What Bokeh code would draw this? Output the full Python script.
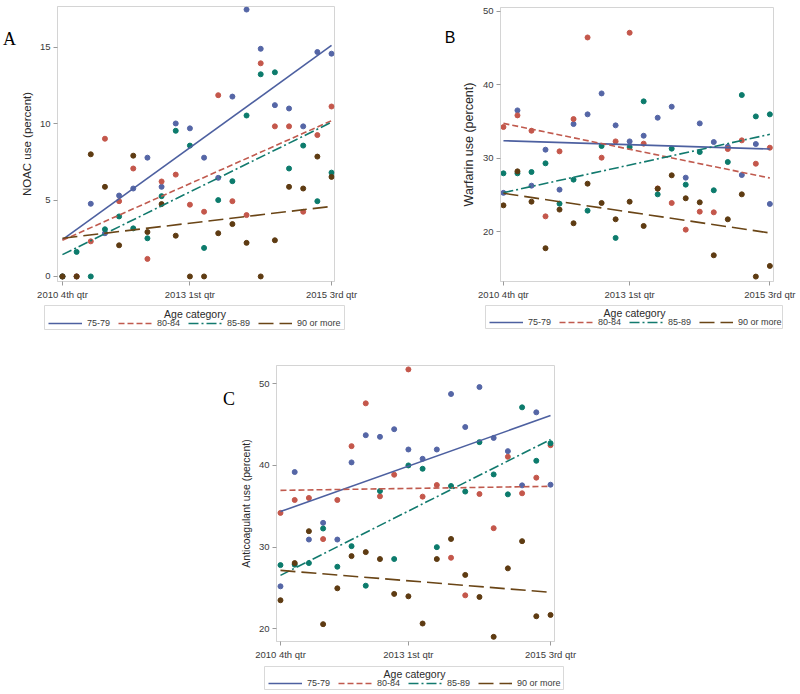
from bokeh.plotting import figure
from bokeh.models import Legend, LegendItem, Label, FixedTicker, Range1d, Spacer
from bokeh.layouts import row, column
from bokeh.embed import file_html
from bokeh.resources import INLINE

# ---------------- data ----------------
quarters = list(range(20))          # 2010 Q4 ... 2015 Q3
tick_idx = [0, 9, 19]
tick_labels = ["2010 4th qtr", "2013 1st qtr", "2015 3rd qtr"]
groups = ["75-79", "80-84", "85-89", "90 or more"]
legend_title = "Age category"

# Panel A: NOAC use (percent)
noac_7579 = [0, 0, 4.76, 2.83, 5.3, 5.76, 7.78, 5.87, 10.02, 9.7, 7.78, 6.46, 11.78, 17.48, 14.91, 11.22, 11.0, 9.83, 14.7, 14.59]
noac_8084 = [0, 0, 2.3, 9.02, 4.93, 7.07, 1.15, 6.22, 6.67, 4.7, 4.24, 11.87, 4.93, 4.02, 13.96, 9.83, 9.83, 4.24, 9.26, 11.13]
noac_8589 = [0, 1.61, 0, 3.09, 3.93, 3.15, 2.5, 5.26, 9.54, 8.57, 1.87, 5.0, 6.24, 10.54, 13.24, 13.37, 7.07, 8.57, 4.93, 6.8]
noac_90 = [0, 0, 8.0, 5.87, 2.04, 7.91, 2.91, 4.74, 2.67, 0, 0, 2.83, 3.43, 2.2, 0, 2.37, 5.87, 5.76, 7.85, 6.52]
noac_fit_start = [2.41, 2.37, 1.43, 2.5]
noac_fit_end = [15.13, 10.2, 10.1, 4.59]

# Panel B: Warfarin use (percent)
warf_7579 = [25.3, 36.53, 26.28, 31.18, 25.74, 34.67, 35.99, 38.84, 34.49, 32.31, 33.08, 35.53, 37.03, 27.37, 34.76, 32.22, 31.59, 27.73, 31.95, 23.79]
warf_8084 = [34.26, 35.85, 33.76, 22.1, 30.95, 35.35, 46.46, 30.09, 32.31, 47.1, 32.0, 25.9, 23.92, 20.29, 22.74, 22.65, 31.27, 32.45, 29.27, 31.45]
warf_8589 = [27.96, 27.96, 28.14, 29.32, 23.83, 27.1, 22.88, 31.68, 19.16, 31.54, 37.76, 25.1, 31.32, 26.42, 30.86, 25.65, 29.5, 38.62, 35.71, 35.99]
warf_90 = [23.6, 28.23, 24.1, 17.76, 23.02, 21.16, 26.55, 23.92, 21.7, 24.1, 20.79, 25.87, 27.69, 24.56, 24.01, 16.8, 21.7, 25.1, 13.9, 15.35]
warf_fit_start = [32.4, 34.76, 25.33, 25.24]
warf_fit_end = [31.27, 27.32, 33.27, 19.84]

# Panel C: Anticoagulant use (percent)
anti_7579 = [25.2, 39.19, 30.93, 32.97, 30.93, 40.37, 43.7, 43.5, 44.43, 41.95, 40.81, 41.95, 48.74, 44.7, 49.59, 43.37, 41.75, 37.56, 46.5, 37.64]
anti_8084 = [34.19, 35.77, 36.02, 30.98, 35.77, 42.36, 47.6, 36.22, 38.86, 51.75, 36.18, 37.6, 28.7, 24.1, 36.5, 32.32, 41.06, 36.59, 38.5, 42.48]
anti_8589 = [27.8, 27.85, 28.05, 32.28, 27.6, 30.12, 25.28, 36.87, 28.54, 40.0, 39.59, 30.0, 37.48, 36.8, 42.85, 38.9, 36.46, 47.11, 40.57, 42.72]
anti_90 = [23.5, 28.05, 31.95, 20.57, 24.96, 28.9, 29.39, 28.54, 24.27, 23.98, 20.65, 28.54, 31.0, 26.6, 23.9, 19.02, 27.4, 30.73, 21.54, 21.7]
anti_fit_start = [34.35, 36.95, 26.54, 27.15]
anti_fit_end = [46.1, 37.44, 43.17, 24.47]

# ---------------- styles ----------------
marker_colors = ["#5566a6", "#c4574b", "#0c7b6c", "#5e3b12"]
line_colors = ["#4d60a0", "#c05a4e", "#127a6e", "#6a4516"]
dashes = ["solid", "6 3", "10 3 2 3", "15 6"]
FONT = "Liberation Sans"
SERIF = "Liberation Serif"
NAN = float("nan")


def blank_fig(width, height, outline=None):
    f = figure(width=width, height=height, output_backend="svg", toolbar_location=None,
               x_range=Range1d(0, width), y_range=Range1d(0, height),
               x_axis_type=None, y_axis_type=None,
               min_border_left=0, min_border_right=0, min_border_top=0, min_border_bottom=0)
    f.outline_line_color = outline
    f.background_fill_color = "white"
    f.border_fill_color = "white"
    f.grid.visible = False
    return f


def letter_box(width, top, letter, font, size, cx):
    f = blank_fig(width, 30)
    f.add_layout(Label(x=cx, y=15, text=letter, text_font=font, text_font_size=size,
                       text_color="black", text_align="center", text_baseline="middle"))
    return column(Spacer(width=width, height=top), f)


def legend_fig(width, height, title_cy, items_left, items_bottom):
    f = blank_fig(width, height, outline="#d9d9d9")
    rs = [f.line([NAN, NAN], [NAN, NAN], line_color=line_colors[i], line_width=1.6,
                 line_dash=dashes[i]) for i in range(4)]
    f.add_layout(Label(x=width / 2, y=height - title_cy, text=legend_title, text_font=FONT,
                       text_font_size="10.5px", text_color="#2a2a2a",
                       text_align="center", text_baseline="middle"))
    lg = Legend(items=[LegendItem(label=g, renderers=[r]) for g, r in zip(groups, rs)],
                orientation="horizontal", location=(items_left, items_bottom),
                label_text_font=FONT, label_text_font_size="9px", label_text_color="#3a3a3a",
                glyph_width=34, glyph_height=10, label_height=10, label_standoff=5,
                spacing=8, padding=0, margin=0,
                border_line_color=None, background_fill_alpha=0)
    f.add_layout(lg, "center")
    return f


def make_panel(series, fit_start, fit_end, ylabel, ylabel_size, yticks, yr, xr,
               width, height, mb_left, mb_right, mb_top, mb_bottom):
    p = figure(width=width, height=height, output_backend="svg",
               toolbar_location=None, x_range=Range1d(*xr), y_range=Range1d(*yr),
               min_border_left=mb_left, min_border_right=mb_right,
               min_border_top=mb_top, min_border_bottom=mb_bottom)
    p.background_fill_color = "white"
    p.border_fill_color = "white"
    p.outline_line_color = "#d4d4d4"
    p.grid.visible = False

    for i in range(4):
        p.scatter(quarters, series[i], size=5, color=marker_colors[i])
    for i in range(4):
        p.line([quarters[0], quarters[-1]], [fit_start[i], fit_end[i]],
               line_color=line_colors[i], line_width=1.6, line_dash=dashes[i])

    p.xaxis.ticker = FixedTicker(ticks=tick_idx)
    p.xaxis.major_label_overrides = {t: l for t, l in zip(tick_idx, tick_labels)}
    p.yaxis.ticker = FixedTicker(ticks=yticks)
    for ax in (p.xaxis, p.yaxis):
        ax.axis_line_color = "#d4d4d4"
        ax.major_tick_line_color = "#9a9a9a"
        ax.major_tick_out = 4
        ax.major_tick_in = 0
        ax.minor_tick_line_color = None
        ax.major_label_text_font = FONT
        ax.major_label_text_font_size = "9.5px"
        ax.major_label_text_color = "#3a3a3a"
        ax.major_label_standoff = 3
    p.yaxis.axis_label = ylabel
    p.yaxis.axis_label_text_font = FONT
    p.yaxis.axis_label_text_font_size = ylabel_size
    p.yaxis.axis_label_text_font_style = "normal"
    p.yaxis.axis_label_text_color = "#2a2a2a"
    p.yaxis.axis_label_standoff = 4
    return p


# ---- Panel A (page x 0..400, y 0..330) ----
pA = make_panel([noac_7579, noac_8084, noac_8589, noac_90], noac_fit_start, noac_fit_end,
                "NOAC use (percent)", "11.5px", [0, 5, 10, 15], (-0.33, 17.68), (-0.35, 19.21),
                383, 302, 36, 66, 6, 20)
letA = letter_box(17, 23, "A", SERIF, "18px", 9)
legA = legend_fig(301, 25, 8, 4, 2)
colA = column(row(letA, pA), Spacer(width=400, height=3), row(Spacer(width=44, height=25), legA))

# ---- Panel B (page x 400..800) ----
pB = make_panel([warf_7579, warf_8084, warf_8589, warf_90], warf_fit_start, warf_fit_end,
                "Warfarin use (percent)", "12.5px", [20, 30, 40, 50], (13.23, 50.54), (-0.21, 19.26),
                342, 302, 38, 27, 7, 21)
letB = letter_box(58, 22, "B", FONT, "16px", 49.5)
legB = legend_fig(298, 24, 7, 4, 2)
colB = column(row(letB, pB), Spacer(width=400, height=3), row(Spacer(width=85, height=24), legB))

# ---- Panel C (page x 200..600, y 330..690) ----
pC = make_panel([anti_7579, anti_8084, anti_8589, anti_90], anti_fit_start, anti_fit_end,
                "Anticoagulant use (percent)", "10.5px", [20, 30, 40, 50], (18.45, 52.23), (-0.28, 19.28),
                364, 332, 38, 46, 35, 20)
letC = letter_box(36, 53, "C", SERIF, "18px", 28.5)
legC = legend_fig(300, 24, 7, 4, 2)
colC = column(row(letC, pC), Spacer(width=400, height=4), row(Spacer(width=64, height=24), legC))

layout = column(row(colA, colB), row(Spacer(width=200, height=360), colC))
open("out.html", "w").write(file_html(layout, INLINE))
